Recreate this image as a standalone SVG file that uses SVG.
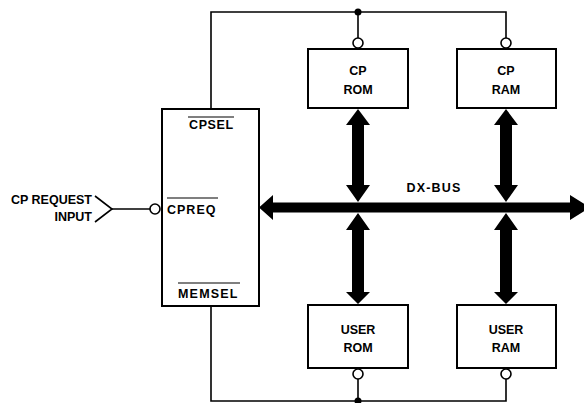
<svg xmlns="http://www.w3.org/2000/svg" width="584" height="403" viewBox="0 0 584 403">
<style>
.box{fill:#fff;stroke:#000;stroke-width:2}
.ln{fill:none;stroke:#000;stroke-width:1.6}
.bub{fill:#fff;stroke:#000;stroke-width:1.6}
.bus{fill:#000;stroke:none}
text{font-family:"Liberation Sans",Arial,sans-serif;font-weight:bold;font-size:12.5px;fill:#000}
.c{text-anchor:middle}
.r{text-anchor:end}
.sp{letter-spacing:1.2px}
.ov{stroke:#000;stroke-width:1.2}
</style>
<rect width="584" height="403" fill="#fff"/>
<g id="connectors">
<polyline class="ln" points="211,109 211,12 506,12 506,38"/>
<line class="ln" x1="358" y1="12" x2="358" y2="38"/>
<circle cx="358" cy="12" r="3.5" fill="#000"/>
<polyline class="ln" points="211,306 211,401 506,401 506,379"/>
<line class="ln" x1="358" y1="401" x2="358" y2="379"/>
<circle cx="358" cy="401" r="3.5" fill="#000"/>
<polyline class="ln" points="95,196 112,209 95,222"/>
<line class="ln" x1="112" y1="209" x2="150" y2="209"/>
<circle class="bub" cx="155" cy="209" r="5"/>
<circle class="bub" cx="358" cy="43" r="5"/>
<circle class="bub" cx="506" cy="43" r="5"/>
<circle class="bub" cx="358" cy="374" r="5"/>
<circle class="bub" cx="506" cy="374" r="5"/>
<path class="bus" d="M259,207.5 L273,195 L273,202.5 L570,202.5 L570,195 L590,207.5 L570,220 L570,212.5 L273,212.5 L273,220 Z"/>
<path class="bus" d="M358,109 L370,125 L364,125 L364,185 L370,185 L358,202 L346,185 L352,185 L352,125 L346,125 Z"/>
<path class="bus" d="M506,109 L518,125 L512,125 L512,185 L518,185 L506,202 L494,185 L500,185 L500,125 L494,125 Z"/>
<path class="bus" d="M358,213 L370,230 L364,230 L364,292 L370,292 L358,304 L346,292 L352,292 L352,230 L346,230 Z"/>
<path class="bus" d="M506,213 L518,230 L512,230 L512,292 L518,292 L506,304 L494,292 L500,292 L500,230 L494,230 Z"/>
<text class="c sp" x="434" y="192">DX-BUS</text>
</g>
<g id="cpreq-input">
<text class="r" x="92" y="204">CP REQUEST</text>
<text class="r" x="92" y="221">INPUT</text>
</g>
<g id="controller">
<rect class="box" x="162" y="109" width="97" height="197"/>
<line class="ov" x1="188" y1="117" x2="234" y2="117"/>
<text x="189" y="129" style="letter-spacing:0.6px">CPSEL</text>
<line class="ov" x1="167" y1="198" x2="218" y2="198"/>
<text x="167" y="214" style="letter-spacing:1px">CPREQ</text>
<line class="ov" x1="178" y1="283" x2="240" y2="283"/>
<text x="178" y="298" class="sp">MEMSEL</text>
</g>
<g id="cp-rom">
<rect class="box" x="308" y="49" width="100" height="59"/>
<text class="c" x="358" y="75">CP</text>
<text class="c" x="358" y="94">ROM</text>
</g>
<g id="cp-ram">
<rect class="box" x="457" y="49" width="99" height="59"/>
<text class="c" x="506" y="75">CP</text>
<text class="c" x="506" y="94">RAM</text>
</g>
<g id="user-rom">
<rect class="box" x="308" y="305" width="100" height="63"/>
<text class="c" x="358" y="334">USER</text>
<text class="c" x="358" y="352">ROM</text>
</g>
<g id="user-ram">
<rect class="box" x="457" y="305" width="99" height="63"/>
<text class="c" x="506" y="334">USER</text>
<text class="c" x="506" y="352">RAM</text>
</g>
</svg>
